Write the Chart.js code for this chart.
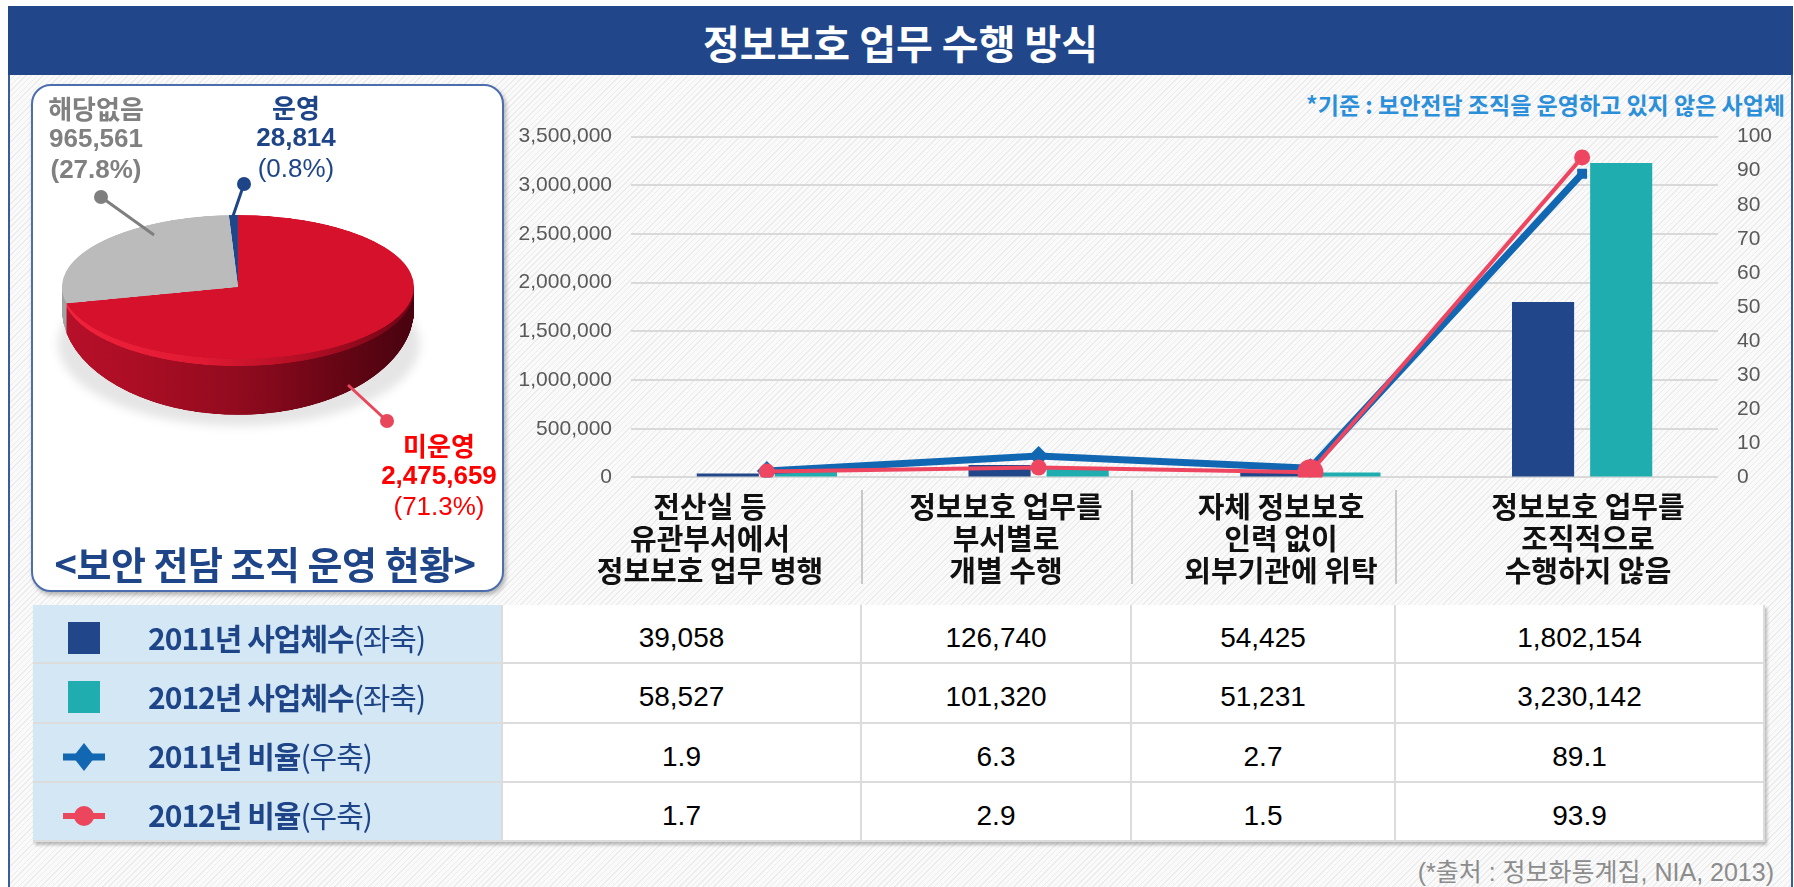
<!DOCTYPE html>
<html><head><meta charset="utf-8">
<script src="https://cdn.jsdelivr.net/npm/chart.js@4.4.0/dist/chart.umd.min.js"></script>
<style>
html,body{margin:0;padding:0;}
body{width:1794px;height:887px;position:relative;overflow:hidden;background:#fff;font-family:"Liberation Sans","Noto Sans CJK KR",sans-serif;}
.abs{position:absolute;}
#frame{left:8px;top:6px;width:1785px;height:900px;border-left:2px solid #3B5C9C;border-right:2px solid #3B5C9C;box-sizing:border-box;
  background:repeating-linear-gradient(135deg,#ececec 0px,#ececec 1px,#fafafa 1px,#fafafa 4px);}
#titlebar{left:8px;top:6px;width:1785px;height:69px;background:#21478A;color:#fff;font:bold 40px "Noto Sans CJK KR";display:flex;align-items:center;justify-content:center;padding-top:2px;box-sizing:border-box;}
#piebox{left:31px;top:84px;width:473px;height:508px;box-sizing:border-box;border:2px solid #4C6DAE;border-radius:20px;background:#fff;box-shadow:2px 3px 4px rgba(0,0,0,0.28);}
#pieShadow{left:58px;top:262px;width:362px;height:164px;border-radius:50%;background:rgba(0,0,0,0.10);filter:blur(5px);}
#pieWrap{left:62px;top:215px;width:352px;height:490px;transform:scaleY(0.409);transform-origin:0 0;}
.plabel{position:absolute;text-align:center;font-size:26px;line-height:31px;font-weight:bold;white-space:nowrap;transform:translateX(-50%);}
.plabel .n{font-weight:normal;}
#pieTitle{left:265px;top:535px;transform:translateX(-50%);font:bold 38px "Noto Sans CJK KR";color:#1F4589;white-space:nowrap;letter-spacing:-0.5px;}
#note{right:9px;top:87px;font:bold 23px "Noto Sans CJK KR";color:#2B8FD9;white-space:nowrap;}
#chartWrap{left:500px;top:105px;width:1290px;height:404px;}
.cat{position:absolute;top:489px;transform:translateX(-50%);text-align:center;font:bold 29px "Noto Sans CJK KR";line-height:32px;color:#111;white-space:nowrap;}
.div{position:absolute;top:490px;width:2px;height:94px;background:#C8C8C8;}
#table{left:33px;top:605px;display:grid;grid-template-columns:470px 359px 270px 264px 369px;grid-template-rows:repeat(4,59.25px);box-shadow:2px 3px 3px rgba(0,0,0,0.25);background:#fff;}
.cell{box-sizing:border-box;border-right:2px solid #DCDCDC;border-bottom:2px solid #DCDCDC;display:flex;align-items:center;justify-content:center;font-size:28px;color:#000;padding-top:9px;}
.lab{background:#D3E7F5;justify-content:flex-start;position:relative;padding-top:6px;}
.lab .txt{position:absolute;left:115px;font:bold 30px "Noto Sans CJK KR";color:#1F4589;letter-spacing:-1px;white-space:nowrap;}
.lab .txt span{font-weight:normal;}
.icon{position:absolute;left:29px;top:16px;}
#footer{right:20px;top:852px;font-size:25px;color:#8C8C8C;white-space:nowrap;font-family:"Liberation Sans","Noto Sans CJK KR";}
</style></head>
<body>
<div id="frame" class="abs"></div>
<div id="titlebar" class="abs">정보보호 업무 수행 방식</div>
<div id="piebox" class="abs"></div>
<div id="pieShadow" class="abs"></div>
<div id="pieWrap" class="abs"><canvas id="pie" width="352" height="490"></canvas></div>
<svg class="abs" style="left:0;top:0" width="520" height="600">
  <line x1="101" y1="197" x2="154" y2="235" stroke="#7F7F7F" stroke-width="3"/>
  <circle cx="101" cy="197" r="7" fill="#7F7F7F"/>
  <line x1="244" y1="184" x2="233" y2="216" stroke="#1F4589" stroke-width="3"/>
  <circle cx="244" cy="184" r="7" fill="#1F4589"/>
  <line x1="348" y1="385" x2="387" y2="421" stroke="#E8465A" stroke-width="3"/>
  <circle cx="387" cy="421" r="7" fill="#E8465A"/>
</svg>
<div id="pieLabels"></div>
<div id="pieTitle" class="abs">&lt;보안 전담 조직 운영 현황&gt;</div>
<div id="note" class="abs">*기준 : 보안전담 조직을 운영하고 있지 않은 사업체</div>
<div id="chartWrap" class="abs"><canvas id="combo" width="1290" height="404"></canvas></div>
<div id="cats"></div>
<div id="table" class="abs"></div>
<div id="footer" class="abs">(*출처 : 정보화통계집, NIA, 2013)</div>
<script>
// ---- data ----
const categories = [
  ['전산실 등','유관부서에서','정보보호 업무 병행'],
  ['정보보호 업무를','부서별로','개별 수행'],
  ['자체 정보보호','인력 없이','외부기관에 위탁'],
  ['정보보호 업무를','조직적으로','수행하지 않음']
];
const firms2011 = [39058, 126740, 54425, 1802154];
const firms2012 = [58527, 101320, 51231, 3230142];
const ratio2011 = [1.9, 6.3, 2.7, 89.1];
const ratio2012 = [1.7, 2.9, 1.5, 93.9];
const seriesNames = ['2011년 사업체수','2012년 사업체수','2011년 비율','2012년 비율'];
const seriesAxisNotes = ['(좌축)','(좌축)','(우축)','(우축)'];
const pieNames = ['운영','미운영','해당없음'];
const pieValues = [28814, 2475659, 965561];
const piePercents = [0.8, 71.3, 27.8];

const fmt = v => v.toLocaleString('en-US');

// ---- pie labels ----
const pieLabelPos = [
  {x:296, y:91, color:'#1F4589', pctNormal:true},
  {x:439, y:429, color:'#FF0000', pctNormal:true},
  {x:96, y:92, color:'#808080', pctNormal:false}
];
const pl = document.getElementById('pieLabels');
pieNames.forEach((n,i)=>{
  const p = pieLabelPos[i];
  const d = document.createElement('div');
  d.className='plabel';
  d.style.left=p.x+'px'; d.style.top=p.y+'px'; d.style.color=p.color;
  d.innerHTML = '<div style="font-family:\'Noto Sans CJK KR\'">'+n+'</div><div>'+fmt(pieValues[i])+'</div><div class="'+(p.pctNormal?'n':'')+'">('+piePercents[i].toFixed(1)+'%)</div>';
  pl.appendChild(d);
});

// ---- 3D pie ----
const extrude = {
  id:'extrude',
  beforeDatasetsDraw(chart, args, opts){
    const ctx = chart.ctx;
    const meta = chart.getDatasetMeta(0);
    const a0 = meta.data[0];
    const cx = a0.x, cy = a0.y, R = a0.outerRadius;
    const g1 = ctx.createLinearGradient(cx-R,0,cx+R,0);
    g1.addColorStop(0,'#B8102A'); g1.addColorStop(0.2,'#AC0E25'); g1.addColorStop(0.5,'#920B1F');
    g1.addColorStop(0.75,'#6C0616'); g1.addColorStop(1,'#48030F');
    const g2 = ctx.createLinearGradient(cx-R,0,cx+R,0);
    g2.addColorStop(0,'#F2223C'); g2.addColorStop(0.4,'#E01A33'); g2.addColorStop(0.75,'#A80C22'); g2.addColorStop(1,'#6A0515');
    const side = [ () => '#17396A', t => t < 0.13 ? g2 : g1, () => '#A4A4A4' ];
    ctx.save();
    ctx.beginPath(); ctx.rect(0, cy, chart.width, chart.height - cy); ctx.clip();
    const N = 150;
    for (let k = N; k >= 1; k--) {
      const t = k / N;
      meta.data.forEach((arc,i)=>{
        ctx.save();
        ctx.translate(cx, cy + opts.shift * t);
        ctx.scale(1, 1 + opts.grow * t);
        ctx.beginPath();
        ctx.moveTo(0, 0);
        ctx.arc(0, 0, R, arc.startAngle, arc.endAngle);
        ctx.closePath();
        ctx.restore();
        ctx.fillStyle = side[i](t);
        ctx.fill();
      });
    }
    ctx.restore();
  }
};
new Chart(document.getElementById('pie'), {
  type:'pie',
  data:{ labels: pieNames, datasets:[{ data: pieValues, backgroundColor:['#20468A','#D5112B','#BBBBBB'], borderWidth:0 }]},
  options:{
    responsive:false, animation:false, rotation:-3,
    layout:{padding:{top:0,left:0,right:0,bottom:138}},
    plugins:{ legend:{display:false}, tooltip:{enabled:false}, extrude:{shift:54, grow:0.47} },
    events:[]
  },
  plugins:[extrude]
});

// ---- combo chart ----
Chart.defaults.font.family = '"Liberation Sans", Arial, sans-serif';
new Chart(document.getElementById('combo'), {
  type:'bar',
  data:{
    labels: categories.map(c=>c.join(' ')),
    datasets:[
      { type:'line', label:seriesNames[3], data:ratio2012, yAxisID:'y1', order:0,
        borderColor:'#EE4660', backgroundColor:'#EE4660', borderWidth:4, tension:0,
        pointStyle:'circle', pointRadius:[8,8,13,8], pointBorderWidth:0, pointBackgroundColor:'#EE4660' },
      { type:'line', label:seriesNames[2], data:ratio2011, yAxisID:'y1', order:1,
        borderColor:'#1167B1', backgroundColor:'#1167B1', borderWidth:7, tension:0,
        pointStyle:['rectRot','rectRot','rectRot','rect'], pointRadius:[10,10,10,7], pointBorderWidth:0, pointBackgroundColor:'#1167B1' },
      { type:'bar', label:seriesNames[0], data:firms2011, yAxisID:'y', order:2, backgroundColor:'#21468A',
        categoryPercentage:0.575, barPercentage:0.795 },
      { type:'bar', label:seriesNames[1], data:firms2012, yAxisID:'y', order:3, backgroundColor:'#1FADB0',
        categoryPercentage:0.575, barPercentage:0.795 }
    ]
  },
  options:{
    responsive:false, animation:false, events:[],
    layout:{padding:0},
    plugins:{legend:{display:false}, tooltip:{enabled:false}},
    scales:{
      x:{display:false, offset:true},
      y:{position:'left', min:0, max:3500000, border:{display:false},
         grid:{color:'#D9D9D9', lineWidth:2, drawTicks:false},
         ticks:{stepSize:500000, color:'#595959', font:{size:21}, padding:19, autoSkip:false, callback:v=>fmt(v)},
         afterFit(s){ s.width = 131; } },
      y1:{position:'right', min:0, max:100, border:{display:false},
         grid:{display:false, drawTicks:false},
         ticks:{stepSize:10, color:'#595959', font:{size:21}, padding:19, autoSkip:false},
         afterFit(s){ s.width = 72; } }
    }
  }
});

// ---- category labels under chart ----
const catCenters = [710, 1006, 1281, 1588];
const catsDiv = document.getElementById('cats');
categories.forEach((c,i)=>{
  const d = document.createElement('div');
  d.className='cat'; d.style.left=catCenters[i]+'px';
  d.innerHTML = c.join('<br>');
  catsDiv.appendChild(d);
});
[861,1131,1395].forEach(x=>{
  const d=document.createElement('div'); d.className='div'; d.style.left=x+'px'; catsDiv.appendChild(d);
});

// ---- table ----
const icons = [
  '<svg width="44" height="34"><rect x="6" y="1" width="32" height="32" fill="#21468A"/></svg>',
  '<svg width="44" height="34"><rect x="6" y="1" width="32" height="32" fill="#1FADB0"/></svg>',
  '<svg width="44" height="34"><line x1="1" y1="17" x2="43" y2="17" stroke="#1167B1" stroke-width="7"/><polygon points="22,3 33,17 22,31 11,17" fill="#1167B1"/></svg>',
  '<svg width="44" height="34"><line x1="1" y1="17" x2="43" y2="17" stroke="#EC465C" stroke-width="6"/><circle cx="22" cy="17" r="10" fill="#EC465C"/></svg>'
];
const rows = [firms2011.map(fmt), firms2012.map(fmt), ratio2011.map(v=>v.toFixed(1)), ratio2012.map(v=>v.toFixed(1))];
const tbl = document.getElementById('table');
rows.forEach((r,i)=>{
  const l = document.createElement('div');
  l.className='cell lab';
  l.innerHTML = '<div class="icon">'+icons[i]+'</div><div class="txt">'+seriesNames[i]+'<span>'+seriesAxisNotes[i]+'</span></div>';
  tbl.appendChild(l);
  r.forEach(v=>{
    const c=document.createElement('div'); c.className='cell'; c.textContent=v; tbl.appendChild(c);
  });
});
</script>
</body></html>
